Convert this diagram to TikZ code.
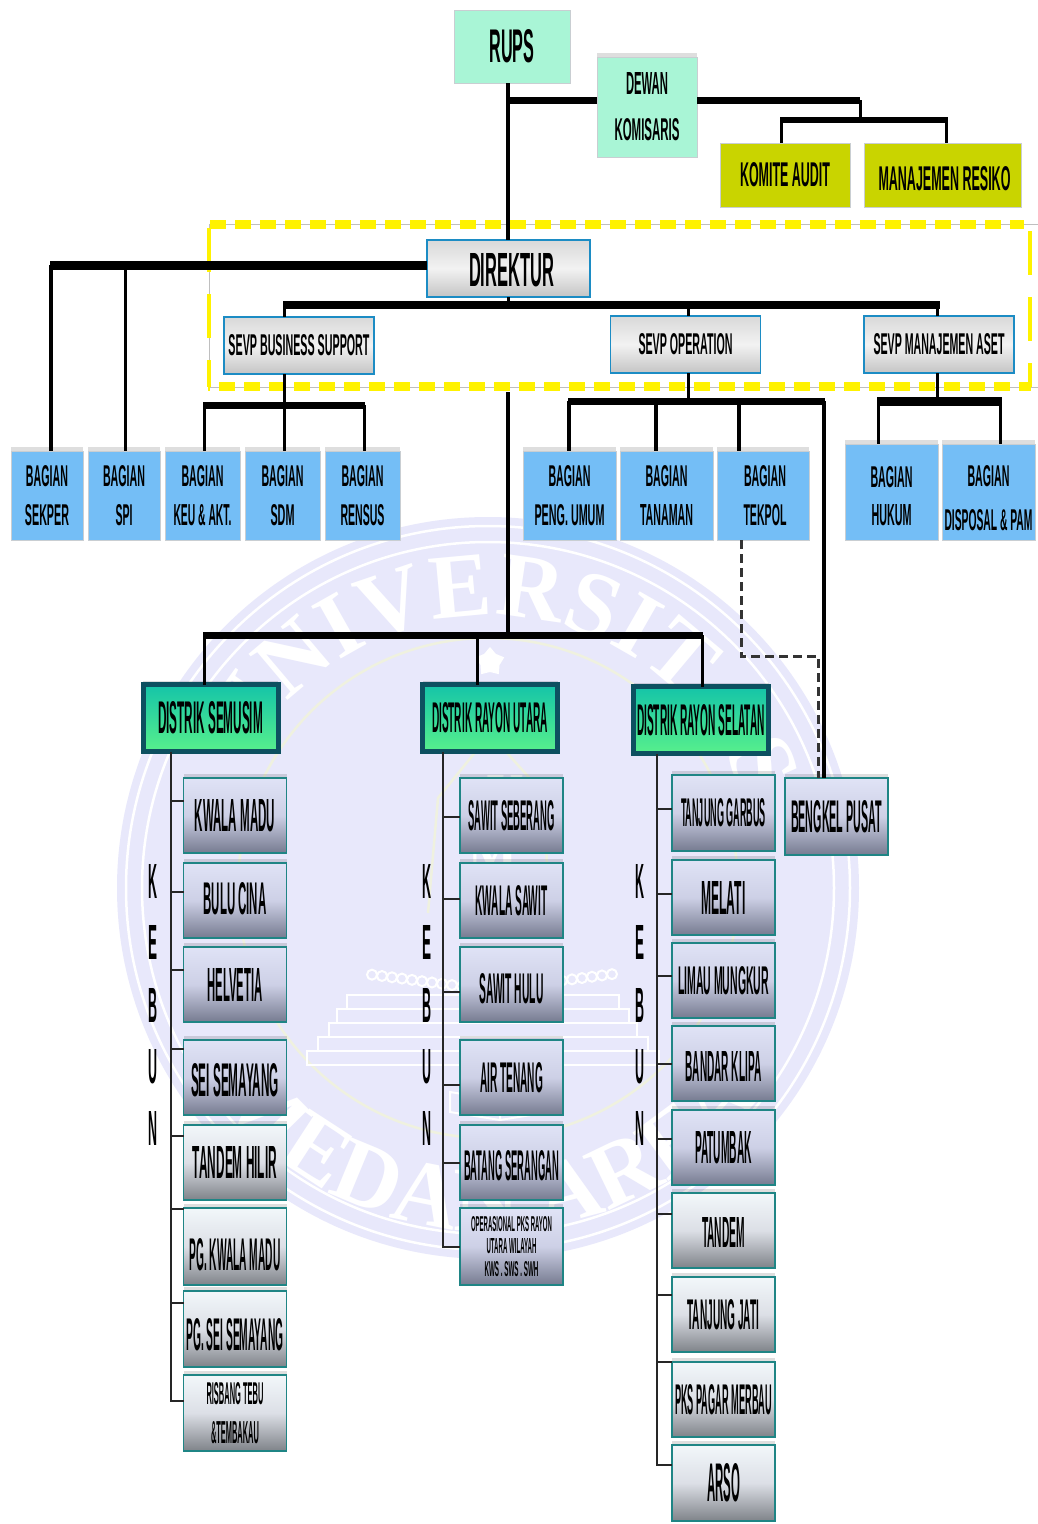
\documentclass[tikz,border=0pt]{standalone}
\usepackage{fontspec}
\usepackage{graphicx}
\setmainfont{Liberation Sans}
\newfontfamily\wmserif{Liberation Serif}
\usetikzlibrary{calc,positioning,shadows,shapes.geometric,decorations.text}
\definecolor{wmfill}{HTML}{E8E8FB}
\definecolor{wmpale}{HTML}{EFF1DF}
\definecolor{mint}{HTML}{A9F5D6}
\definecolor{olive}{HTML}{C9D400}
\definecolor{bagianblue}{HTML}{74BEF6}
\definecolor{edgegrey}{HTML}{C9CED2}
\definecolor{sevpblue}{HTML}{1C8CC4}
\definecolor{tealdark}{HTML}{0D5060}
\definecolor{tealedge}{HTML}{1F8585}
\definecolor{dashyellow}{HTML}{FFF200}
\definecolor{distrikA}{HTML}{14C4A8}
\definecolor{distrikB}{HTML}{58F08C}
\definecolor{kebunA}{HTML}{E0E3F6}
\definecolor{kebunM}{HTML}{CDD0E6}
\definecolor{kebunB}{HTML}{767B90}
\definecolor{pgA}{HTML}{F2F7FA}
\definecolor{pgM}{HTML}{DCDFE6}
\definecolor{pgB}{HTML}{7F8389}
\newcommand{\lab}[3]{\resizebox{#1pt}{#2pt}{\textbf{#3}}}
\newcommand{\wmfont}{\fontsize{92}{92}\wmserif\bfseries\selectfont\color{white}}
\tikzset{
	soft/.style={drop shadow={shadow xshift=0pt,shadow yshift=4pt,opacity=.13,fill=black}},
	topbox/.style={draw=edgegrey,line width=1pt,fill=#1,inner sep=0pt,outer sep=0pt,align=center},
	bagian/.style={topbox=bagianblue,minimum height=89pt,soft},
	sevp/.style={draw=sevpblue,line width=1.6pt,top color=black!15,bottom color=black!23,middle color=black!5,inner sep=0pt,outer sep=0pt,minimum width=150pt,minimum height=57pt},
	distrik/.style={draw=tealdark,line width=5pt,top color=distrikA,bottom color=distrikB,inner sep=0pt,outer sep=0pt,minimum width=135pt,minimum height=67pt,soft},
	kebun/.style={draw=tealedge,line width=1.5pt,top color=kebunA,bottom color=kebunB,middle color=kebunM,inner sep=0pt,outer sep=0pt,align=center,minimum width=103pt,minimum height=75pt,soft},
	kebunpg/.style={kebun,top color=pgA,bottom color=pgB,middle color=pgM},
	teks/.style={align=center,inner sep=0pt,outer sep=0pt,yshift=#1},
	bar/.style={line width=#1},
	stem/.style={line width=3pt},
	twig/.style={line width=2pt,draw=black!85},
	huruf/.style={inner sep=0pt,outer sep=0pt},
	yellowdash/.style={draw=dashyellow,line width=#1},
}
\begin{document}
\begin{tikzpicture}[x=1pt,y=-1pt]
	%\draw[color=gray,step=100pt,opacity=0.3] (0,0) grid (1038,1524); %help grids
	\useasboundingbox (0,0) rectangle (1038,1524);
	\fill[white] (0,0) rectangle (1038,1524);

	% watermark
	\coordinate (wm) at (488,888);
	\fill[wmfill] (wm) circle[radius=371];
	\draw[white,line width=2.5pt] (wm) circle[radius=362];
	\draw[white,line width=2.5pt] (wm) circle[radius=346];
	\draw[wmpale,line width=2.5pt] (wm) circle[radius=250];
	\path[decorate,decoration={text along path,text align=center,text={|\wmfont|UNIVERSITAS}}]
		(wm) ++(200:272) arc[start angle=200,end angle=350,radius=272];
	\path[decorate,decoration={text along path,text align=center,text={|\wmfont|MEDAN AREA}}]
		(wm) ++(165:343) arc[start angle=165,end angle=15,radius=343];
	\node[star,star points=5,fill=white,minimum size=30pt,inner sep=0pt] (wmstar) at (490,662) {};
	\draw[wmpale,line width=2.5pt] (490,734)--(438,798)--(428,913) (490,734)--(543,793)--(550,918);
	\node[white,font=\fontsize{52}{52}\wmserif\bfseries\selectfont] (wmu) at (505,793) {U};
	\node[white,font=\fontsize{52}{52}\wmserif\bfseries\selectfont] (wmm) at (493,853) {M};
	\node[white,font=\fontsize{52}{52}\wmserif\bfseries\selectfont] (wma) at (490,918) {A};
	\foreach \y/\w in {995/136,1009/146,1023/154,1037/165,1051/176}
		\draw[white,line width=2pt] (483-\w,\y) rectangle (483+\w,\y+14);
	\foreach \i in {0,...,24}
		\draw[white,line width=2pt] (372+\i*10,{990-abs(372+\i*10-490)*0.13}) circle[radius=5];
	\draw[white,line width=2pt] (450,1112)--(450,1092)--(500,1100)--(550,1092)--(550,1112)--(500,1120)--cycle (500,1100)--(500,1120);

	% yellow frame
	\coordinate (frTL) at (209,224);
	\coordinate (frBL) at (209,387);
	\coordinate (frTR) at (1030,224);
	\coordinate (frBR) at (1030,387);
	\draw[black!25,line width=.8pt] (frTL)--(1038,224) (frBL)--(1038,387) (frTL)--(frBL);
	\draw[yellowdash=9pt,dash pattern=on 16pt off 9pt] (210,224.5)--(1024,224.5);
	\draw[yellowdash=9pt,dash pattern=on 16pt off 9pt,dash phase=14pt] (208,386)--(1031,386);
	\draw[yellowdash=4.5pt,dash pattern=on 44pt off 22pt] (209,228)--(frBL);
	\draw[yellowdash=4.5pt,dash pattern=on 44pt off 22pt] (1030,231)--(frBR);

	% top boxes
	\node[topbox=mint,minimum width=116pt,minimum height=73pt] (rups) at (512,46.5) {\lab{45}{33}{RUPS}};
	\node[topbox=mint,minimum width=100pt,minimum height=100pt,soft] (dewan) at (647,107) {\lab{42}{22}{DEWAN}\\[23pt]\lab{65}{22}{KOMISARIS}};
	\node[topbox=olive,minimum width=130pt,minimum height=64pt] (komite) at (785,175) {\lab{90}{24}{KOMITE AUDIT}};
	\node[topbox=olive,minimum width=157pt,minimum height=64pt,label={[teks=-4pt,xshift=2pt]center:\lab{132}{24}{MANAJEMEN RESIKO}}] (resiko) at (942.5,175) {};
	\node[sevp,minimum width=163pt,label={[teks=-2pt,xshift=3pt]center:\lab{85}{33}{DIREKTUR}}] (direktur) at (508.5,268.5) {};
	\node[sevp] (bisnis) at (299,345.5) {\lab{141}{21}{SEVP BUSINESS SUPPORT}};
	\node[sevp] (operasi) at (685.5,344.5) {\lab{94}{21}{SEVP OPERATION}};
	\node[sevp] (aset) at (939,344.5) {\lab{131}{21}{SEVP MANAJEMEN ASET}};

	% bagian
	\node[bagian,minimum width=72pt] (sekper) at (47,495.5) {\lab{42}{21}{BAGIAN}\\[16pt]\lab{44}{21}{SEKPER}};
	\node[bagian,minimum width=72pt] (spi) at (124,495.5) {\lab{42}{21}{BAGIAN}\\[16pt]\lab{17}{21}{SPI}};
	\node[bagian,minimum width=75pt] (keu) at (202.5,495.5) {\lab{42}{21}{BAGIAN}\\[16pt]\lab{58}{21}{KEU \& AKT.}};
	\node[bagian,minimum width=75pt] (sdm) at (282.5,495.5) {\lab{42}{21}{BAGIAN}\\[16pt]\lab{24}{21}{SDM}};
	\node[bagian,minimum width=75pt] (rensus) at (362.5,495.5) {\lab{42}{21}{BAGIAN}\\[16pt]\lab{44}{21}{RENSUS}};
	\node[bagian,minimum width=93pt] (umum) at (569.5,495.5) {\lab{42}{21}{BAGIAN}\\[16pt]\lab{70}{21}{PENG. UMUM}};
	\node[bagian,minimum width=93pt] (tanaman) at (666.5,495.5) {\lab{42}{21}{BAGIAN}\\[16pt]\lab{53}{21}{TANAMAN}};
	\node[bagian,minimum width=92pt,label={[teks=0pt,xshift=2pt]center:\lab{42}{21}{BAGIAN}\\[16pt]\lab{43}{21}{TEKPOL}}] (tekpol) at (763,495.5) {};
	\node[bagian,minimum width=93pt,minimum height=96pt,label={[teks=-4pt]center:\lab{42}{21}{BAGIAN}\\[16pt]\lab{40}{21}{HUKUM}}] (hukum) at (891.5,492) {};
	\node[bagian,minimum width=93pt,minimum height=96pt,label={[teks=-6pt]center:\lab{42}{21}{BAGIAN}\\[22pt]\lab{88}{21}{DISPOSAL \& PAM}}] (disposal) at (988.5,492) {};

	% distrik
	\node[distrik] (semusim) at (210.5,718) {\lab{105}{32}{DISTRIK SEMUSIM}};
	\node[distrik] (utara) at (490,718) {\lab{116}{30}{DISTRIK RAYON UTARA}};
	\node[distrik] (selatan) at (701,720) {\lab{128}{31}{DISTRIK RAYON SELATAN}};

	% kebun semusim
	\node[kebun] (kwalamadu) at (235,815.5) {\lab{80}{32}{KWALA MADU}};
	\node[kebun,label={[teks=2pt]center:\lab{63}{32}{BULU CINA}}] (bulucina) at (235,900.5) {};
	\node[kebun] (helvetia) at (235,984.5) {\lab{55}{33}{HELVETIA}};
	\node[kebun,label={[teks=-3pt]center:\lab{88}{33}{SEI SEMAYANG}}] (seisemayang) at (235,1077.5) {};
	\node[kebunpg] (tandemhilir) at (235,1162.5) {\lab{84}{32}{TANDEM HILIR}};
	\node[kebunpg,minimum height=77pt,label={[teks=-8pt]center:\lab{91}{32}{PG. KWALA MADU}}] (pgkwala) at (235,1246.5) {};
	\node[kebunpg,minimum height=76pt,label={[teks=-6pt]center:\lab{97}{32}{PG. SEI SEMAYANG}}] (pgsei) at (235,1329) {};
	\node[kebunpg,minimum height=76pt] (risbang) at (235,1413) {\lab{57}{22}{RISBANG TEBU}\\[15pt]\lab{48}{22}{\&TEMBAKAU}};

	% kebun rayon utara
	\node[kebun] (sawitseberang) at (511.5,815.5) {\lab{86}{30}{SAWIT SEBERANG}};
	\node[kebun] (kwalasawit) at (511.5,900.5) {\lab{72}{30}{KWALA SAWIT}};
	\node[kebun,label={[teks=-4pt]center:\lab{64}{30}{SAWIT HULU}}] (sawithulu) at (511.5,984.5) {};
	\node[kebun] (airtenang) at (511.5,1077.5) {\lab{63}{30}{AIR TENANG}};
	\node[kebun,label={[teks=-3pt]center:\lab{95}{30}{BATANG SERANGAN}}] (batang) at (511.5,1162.5) {};
	\node[kebun,minimum height=77pt] (pksutara) at (511.5,1246.5) {\lab{81}{15}{OPERASIONAL PKS RAYON}\\[6pt]\lab{50}{15}{UTARA WILAYAH}\\[6pt]\lab{54}{15}{KWS . SWS . SWH}};

	% kebun rayon selatan
	\node[kebun,minimum height=76pt] (garbus) at (723.5,813) {\lab{85}{28}{TANJUNG GARBUS}};
	\node[kebun] (melati) at (723.5,897.5) {\lab{44}{33}{MELATI}};
	\node[kebun] (limau) at (723.5,980.5) {\lab{91}{28}{LIMAU MUNGKUR}};
	\node[kebun,label={[teks=-3pt]center:\lab{76}{30}{BANDAR KLIPA}}] (klipa) at (723.5,1063.5) {};
	\node[kebun] (patumbak) at (723.5,1147.5) {\lab{57}{32}{PATUMBAK}};
	\node[kebunpg,label={[teks=-2pt]center:\lab{43}{30}{TANDEM}}] (tandem) at (723.5,1230.5) {};
	\node[kebunpg] (jati) at (723.5,1314.5) {\lab{72}{30}{TANJUNG JATI}};
	\node[kebunpg] (pagar) at (723.5,1399.5) {\lab{97}{30}{PKS PAGAR MERBAU}};
	\node[kebunpg,minimum height=76pt] (arso) at (723.5,1483) {\lab{33}{38}{ARSO}};
	\node[kebun,minimum height=77pt] (bengkel) at (836.5,816.5) {\lab{91}{32}{BENGKEL PUSAT}};

	% huruf kebun
	\foreach \x/\a in {153/a,427/b,640/c}
		\foreach \c/\y in {K/881,E/942,B/1005,U/1067,N/1128}
			\node[huruf] (keb\a\c) at (\x,\y) {\lab{9}{34}{\c}};

	% connectors top
	\coordinate (trunkA) at (508,100);
	\coordinate (komBus) at (860,120);
	\draw[stem,line width=4pt] (trunkA |- rups.south)--(trunkA |- direktur.north);
	\draw[bar=7pt] (trunkA)--(dewan.west |- trunkA);
	\draw[bar=7pt] (dewan.east |- trunkA)--(komBus |- trunkA);
	\draw[stem] (komBus |- trunkA)--(komBus);
	\draw[bar=6pt] (780,120)--(948,120);
	\draw[stem] (781,120)--(781,0 |- komite.north) (946,120)--(946,0 |- resiko.north);

	% connectors direktur
	\coordinate (stafBus) at (50,265);
	\coordinate (sevpBus) at (508,305);
	\draw[bar=9pt] (direktur.west |- stafBus)--(stafBus);
	\draw[stem,line width=3.5pt] (51,265)--(51,0 |- sekper.north);
	\draw[stem] (125,265)--(125,0 |- spi.north);
	\draw[stem] (sevpBus |- direktur.south)--(sevpBus);
	\draw[bar=8pt] (283,305)--(940,305);
	\draw[stem] (284,305)--(284,0 |- bisnis.north) (688,305)--(688,0 |- operasi.north) (937,305)--(937,0 |- aset.north);

	% connectors sevp
	\coordinate (bsBus) at (284,405);
	\coordinate (opBus) at (688,401);
	\coordinate (asBus) at (937,401);
	\draw[stem] (bsBus |- bisnis.south)--(bsBus);
	\draw[bar=7pt] (203,405)--(365,405);
	\foreach \x/\n in {204/keu,284/sdm,364/rensus}
		\draw[stem] (\x,405)--(\x,0 |- \n.north);
	\draw[stem] (opBus |- operasi.south)--(opBus);
	\draw[bar=7pt] (568,401)--(825,401);
	\foreach \x/\n in {569/umum,656/tanaman,739/tekpol}
		\draw[stem,line width=3.5pt] (\x,401)--(\x,0 |- \n.north);
	\draw[stem,line width=3.5pt] (824,401)--(824,0 |- bengkel.north);
	\draw[stem] (asBus |- aset.south)--(asBus);
	\draw[bar=9pt] (877,401)--(1002,401);
	\draw[stem] (878,401)--(878,0 |- hukum.north) (1000,401)--(1000,0 |- disposal.north);
	\draw[line width=3pt,dash pattern=on 9pt off 5pt,draw=black!80] (741,0 |- tekpol.south)--(741,656)--(818,656)--(818,0 |- bengkel.north);

	% connectors distrik
	\coordinate (disBus) at (508,635);
	\draw[stem,line width=4pt] (508,392)--(disBus);
	\draw[bar=7pt] (203,635)--(703,635);
	\draw[stem] (204,635)--(204,0 |- semusim.north) (477,635)--(477,0 |- utara.north) (702,635)--(702,0 |- selatan.north);

	% connectors kebun
	\draw[twig] (171,0 |- semusim.south)--(171,1401)--(risbang.west |- 0,1401);
	\foreach \n/\y in {kwalamadu/801,bulucina/892,helvetia/970,seisemayang/1049,tandemhilir/1136,pgkwala/1209,pgsei/1303}
		\draw[twig] (171,\y)--(\n.west |- 0,\y);
	\draw[twig] (443,0 |- utara.south)--(443,1247)--(pksutara.west |- 0,1247);
	\foreach \n/\y in {sawitseberang/817,kwalasawit/899,sawithulu/992,airtenang/1085,batang/1163}
		\draw[twig] (443,\y)--(\n.west |- 0,\y);
	\draw[twig] (657,0 |- selatan.south)--(657,1465)--(arso.west |- 0,1465);
	\foreach \n/\y in {garbus/809,melati/894,limau/976,klipa/1064,patumbak/1139,tandem/1214,jati/1295,pagar/1362}
		\draw[twig] (657,\y)--(\n.west |- 0,\y);
\end{tikzpicture}
\end{document}
